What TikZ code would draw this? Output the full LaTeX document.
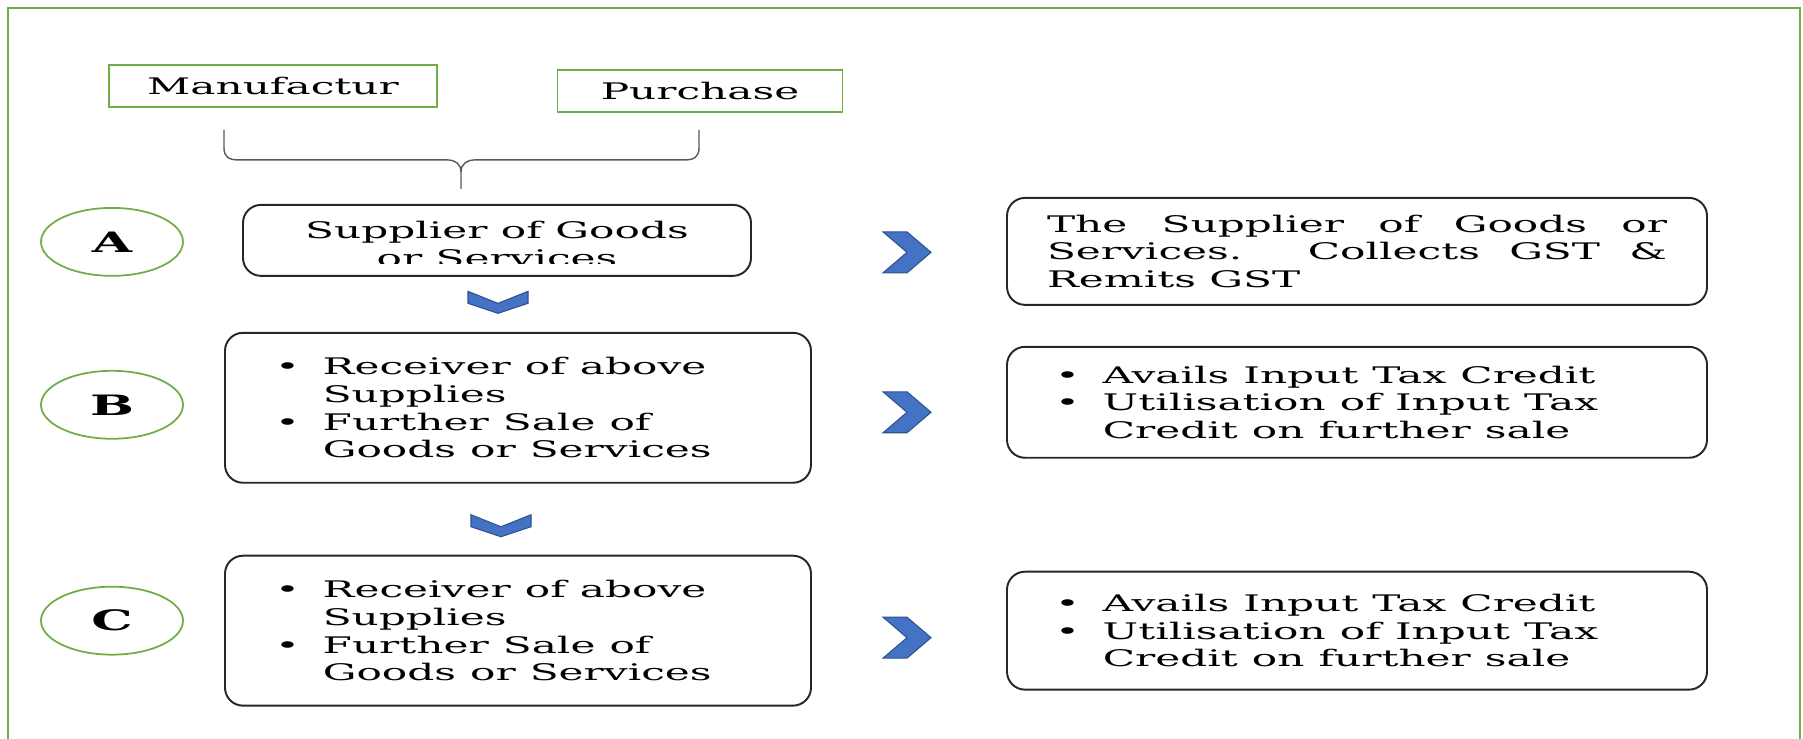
\documentclass[tikz,border=0pt]{standalone}
\usepackage{fontspec}
\setmainfont{DejaVu Serif}
\usepackage{tikz}
\usetikzlibrary{shapes.geometric}

\definecolor{grn}{HTML}{70AD47}
\definecolor{chevfill}{HTML}{4472C4}
\definecolor{chevline}{HTML}{2F528F}

% one unit = one pixel of the page; the text is stretched sideways
\newcommand{\unitx}{0.010811cm}
\newcommand{\unity}{0.02cm}
\newcommand{\bl}{\makebox[14.7pt][l]{\textbullet}}
\newcommand{\bi}{\hspace*{14.7pt}}

\begin{document}
\begin{tikzpicture}[x=\unitx, y=-\unity, xscale=1.85,
    every node/.append style={transform shape, font=\fontsize{13}{15.8}\selectfont},
    gbox/.style={draw=grn, line width=1.1pt, inner sep=0pt},
    lbox/.style={draw=black!85, line width=1.1pt, rounded corners=0.36cm},
    letter/.style={draw=grn, line width=1pt, ellipse, inner sep=0pt,
        minimum width=142*\unitx, minimum height=68*\unity,
        font=\fontsize{16}{20}\selectfont\bfseries},
    brace/.style={draw=black!65, line width=0.8pt},
    chev/.style={fill=chevfill, draw=chevline, line width=0.6pt},
    rchev/.pic={\path[chev] (-24,-20.5) -- (0,-20.5) -- (24,0) -- (0,20.5) -- (-24,20.5) -- (0,0) -- cycle;},
    dchev/.pic={\path[chev] (-30,-11) -- (0,1) -- (30,-11) -- (30,1) -- (0,11) -- (-30,1) -- cycle;}]
        \useasboundingbox (0,0) rectangle (1803,739);
        \draw[grn, line width=1.5pt] (8,745) -- (8,8) -- (1800,8) -- (1800,745);

        % where the goods come from
        \node (m0) [gbox, minimum width=328*\unitx, minimum height=42*\unity] at (273,86) {Manufactur};
        \node (p0) [gbox, minimum width=285*\unitx, minimum height=42*\unity] at (700,91) {Purchase};
        \draw[brace] (224,130) -- (224,148) .. controls (224,157) and (229,160) .. (238,160)
            -- (447,160) .. controls (455,160) and (461,164) .. (461,172) -- (461,189);
        \draw[brace] (699,130) -- (699,148) .. controls (699,157) and (694,160) .. (685,160)
            -- (475,160) .. controls (467,160) and (461,164) .. (461,172);

        % stages
        \node (c0) [letter] at (112,242) {A};
        \node (c1) [letter] at (112,405) {B};
        \node (c2) [letter] at (112,621) {C};

        \node (l0) [lbox, minimum width=508*\unitx, minimum height=71*\unity] at (497,240.5) {};
        \begin{scope}
            \clip (243,205) rectangle (751,264);
            \node (t0) [align=center] at (497,244) {Supplier of Goods\\or Services};
        \end{scope}
        \node (l1) [lbox, minimum width=586*\unitx, minimum height=150*\unity,
            text width=486*\unitx, align=left] at (518,408)
            {\bl Receiver of above\\\bi Supplies\\\bl Further Sale of\\\bi Goods or Services};
        \node (l2) [lbox, minimum width=586*\unitx, minimum height=150*\unity,
            text width=486*\unitx, align=left] at (518,631)
            {\bl Receiver of above\\\bi Supplies\\\bl Further Sale of\\\bi Goods or Services};

        \node (r0) [lbox, minimum width=700*\unitx, minimum height=107*\unity,
            text width=620*\unitx, align=justify] at (1357,251.5)
            {The Supplier of Goods or\linebreak Services. Collects GST \&\linebreak Remits GST};
        \node (r1) [lbox, minimum width=700*\unitx, minimum height=111*\unity,
            text width=604*\unitx, align=left] at (1357,402.5)
            {\bl Avails Input Tax Credit\\\bl Utilisation of Input Tax\\\bi Credit on further sale};
        \node (r2) [lbox, minimum width=700*\unitx, minimum height=118*\unity,
            text width=604*\unitx, align=left] at (1357,631)
            {\bl Avails Input Tax Credit\\\bl Utilisation of Input Tax\\\bi Credit on further sale};

        % chevrons
        \pic (a0) at (907,252.5) {rchev};
        \pic (a1) at (907,412.5) {rchev};
        \pic (a2) at (907,638) {rchev};
        \pic (d0) at (498,302.5) {dchev};
        \pic (d1) at (501,526) {dchev};
\end{tikzpicture}
\end{document}
